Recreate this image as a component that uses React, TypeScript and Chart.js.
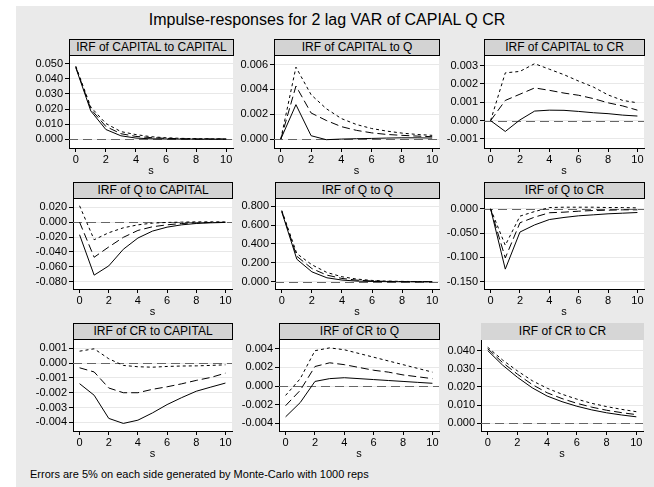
import React, { useEffect, useRef } from "react";
import { Chart, registerables } from "chart.js";

Chart.register(...registerables);

const FONT = "'Liberation Sans', Arial, Helvetica, sans-serif";

// ---------- data ----------
const steps = [0, 1, 2, 3, 4, 5, 6, 7, 8, 9, 10];
const xTicks = [0, 2, 4, 6, 8, 10];

const chartTitle = "Impulse-responses for 2 lag VAR of CAPIAL Q CR";
const noteText = "Errors are 5% on each side generated by Monte-Carlo with 1000 reps";

const panelTitles = [
  "IRF of CAPITAL to CAPITAL",
  "IRF of CAPITAL to Q",
  "IRF of CAPITAL to CR",
  "IRF of Q to CAPITAL",
  "IRF of Q to Q",
  "IRF of Q to CR",
  "IRF of CR to CAPITAL",
  "IRF of CR to Q",
  "IRF of CR to CR",
];

// CAPITAL to CAPITAL
const capCapLower = [0.0475, 0.0187, 0.0064, 0.0022, 0.0007, 0.0002, 0.0001, 0.0, 0.0, 0.0, 0.0];
const capCapIrf = [0.048, 0.02, 0.0084, 0.0036, 0.0018, 0.001, 0.0005, 0.0003, 0.0001, 0.0001, 0.0];
const capCapUpper = [0.0485, 0.0213, 0.0104, 0.005, 0.003, 0.0016, 0.0009, 0.0005, 0.0003, 0.0002, 0.0001];

// CAPITAL to Q
const capQLower = [0, 0.00277, 0.00027, -0.00005, 0.0, 0.00003, 0.00005, 0.00008, 0.0001, 0.0001, 0.00008];
const capQIrf = [0, 0.00427, 0.0021, 0.0015, 0.001, 0.0007, 0.0005, 0.00037, 0.0003, 0.00024, 0.00019];
const capQUpper = [0, 0.00579, 0.00357, 0.00245, 0.00165, 0.00117, 0.00085, 0.00064, 0.00048, 0.00037, 0.0003];

// CAPITAL to CR
const capCrLower = [0, -0.00059, 0.00004, 0.00052, 0.00057, 0.00056, 0.0005, 0.00043, 0.00038, 0.0003, 0.00025];
const capCrIrf = [0, 0.0011, 0.00144, 0.00178, 0.00165, 0.0015, 0.00138, 0.0012, 0.00097, 0.0008, 0.00057];
const capCrUpper = [0, 0.0026, 0.00268, 0.0031, 0.0028, 0.0025, 0.00215, 0.00183, 0.0014, 0.0011, 0.00097];

// Q to CAPITAL
const qCapLower = [-0.0169, -0.0711, -0.0587, -0.0364, -0.0213, -0.012, -0.0067, -0.0036, -0.0018, -0.0009, -0.0004];
const qCapIrf = [0, -0.0471, -0.0333, -0.0204, -0.0111, -0.0062, -0.0036, -0.0018, -0.0009, -0.0004, -0.0002];
const qCapUpper = [0.022, -0.0236, -0.0142, -0.0076, -0.0036, -0.0013, -0.0004, 0.0, 0.0004, 0.0004, 0.0003];

// Q to Q
const qQLower = [0.74, 0.239, 0.105, 0.042, 0.018, 0.007, 0.003, 0.001, 0.0, 0.0, 0.0];
const qQIrf = [0.75, 0.27, 0.14, 0.07, 0.035, 0.017, 0.008, 0.004, 0.002, 0.001, 0.0005];
const qQUpper = [0.755, 0.298, 0.18, 0.098, 0.053, 0.028, 0.014, 0.007, 0.004, 0.002, 0.001];

// Q to CR
const qCrLower = [0, -0.124, -0.0477, -0.033, -0.022, -0.0177, -0.0143, -0.0123, -0.0102, -0.0089, -0.0075];
const qCrIrf = [0, -0.101, -0.0286, -0.017, -0.008, -0.0068, -0.0048, -0.0034, -0.0027, -0.002, -0.002];
const qCrUpper = [0, -0.075, -0.015, -0.0055, 0.0027, 0.0034, 0.0034, 0.0034, 0.0027, 0.0027, 0.002];

// CR to CAPITAL
const crCapLower = [-0.00139, -0.00217, -0.00373, -0.00407, -0.00385, -0.00336, -0.0028, -0.00233, -0.0019, -0.00162, -0.00135];
const crCapIrf = [-0.00032, -0.0006, -0.00168, -0.002, -0.002, -0.00177, -0.0016, -0.0014, -0.00117, -0.00097, -0.00068];
const crCapUpper = [0.0008, 0.00096, 0.00029, -0.00016, -0.00025, -0.00028, -0.00023, -0.0002, -0.00019, -0.00016, -0.00012];

// CR to Q
const crQLower = [-0.0033, -0.00176, 0.0005, 0.0008, 0.0009, 0.0008, 0.0007, 0.0006, 0.0005, 0.0004, 0.0003];
const crQIrf = [-0.0021, -0.00045, 0.0021, 0.0025, 0.0023, 0.002, 0.0017, 0.0015, 0.0012, 0.001, 0.0008];
const crQUpper = [-0.001, 0.0008, 0.0038, 0.0041, 0.0039, 0.0035, 0.0031, 0.0027, 0.0023, 0.0019, 0.0015];

// CR to CR
const crCrLower = [0.04, 0.032, 0.0253, 0.0195, 0.015, 0.0119, 0.0094, 0.0074, 0.0058, 0.0046, 0.0036];
const crCrIrf = [0.041, 0.0334, 0.027, 0.0213, 0.0168, 0.0136, 0.011, 0.0089, 0.0072, 0.0059, 0.0048];
const crCrUpper = [0.0418, 0.0348, 0.0288, 0.0234, 0.0193, 0.016, 0.0133, 0.011, 0.0092, 0.0077, 0.0064];

// y-axis tick labels per panel
const yTicks1 = [0, 0.01, 0.02, 0.03, 0.04, 0.05];
const yTicks2 = [0, 0.002, 0.004, 0.006];
const yTicks3 = [-0.001, 0, 0.001, 0.002, 0.003];
const yTicks4 = [-0.08, -0.06, -0.04, -0.02, 0, 0.02];
const yTicks5 = [0, 0.2, 0.4, 0.6, 0.8];
const yTicks6 = [-0.15, -0.1, -0.05, 0];
const yTicks7 = [-0.004, -0.003, -0.002, -0.001, 0, 0.001];
const yTicks8 = [-0.004, -0.002, 0, 0.002, 0.004];
const yTicks9 = [0, 0.01, 0.02, 0.03, 0.04];

// ---------- layout (plot region in page pixels + axis ranges) ----------
type PanelCfg = {
  title: string;
  lower: number[];
  irf: number[];
  upper: number[];
  ticks: number[];
  yMin: number;
  yMax: number;
  L: number;
  R: number;
  T: number;
  B: number;
  plainHeader?: boolean;
};

const panels: PanelCfg[] = [
  { title: panelTitles[0], lower: capCapLower, irf: capCapIrf, upper: capCapUpper, ticks: yTicks1, yMin: -0.0059, yMax: 0.0555, L: 69, R: 233, T: 55, B: 148 },
  { title: panelTitles[1], lower: capQLower, irf: capQIrf, upper: capQUpper, ticks: yTicks2, yMin: -0.00072, yMax: 0.00672, L: 274, R: 439, T: 55, B: 148 },
  { title: panelTitles[2], lower: capCrLower, irf: capCrIrf, upper: capCrUpper, ticks: yTicks3, yMin: -0.00149, yMax: 0.00354, L: 484, R: 644, T: 55, B: 148 },
  { title: panelTitles[3], lower: qCapLower, irf: qCapIrf, upper: qCapUpper, ticks: yTicks4, yMin: -0.0897, yMax: 0.0316, L: 73, R: 232, T: 198, B: 289 },
  { title: panelTitles[4], lower: qQLower, irf: qQIrf, upper: qQUpper, ticks: yTicks5, yMin: -0.0768, yMax: 0.881, L: 275, R: 439, T: 198, B: 289 },
  { title: panelTitles[5], lower: qCrLower, irf: qCrIrf, upper: qCrUpper, ticks: yTicks6, yMin: -0.1649, yMax: 0.0211, L: 484, R: 644, T: 198, B: 289 },
  { title: panelTitles[6], lower: crCapLower, irf: crCapIrf, upper: crCapUpper, ticks: yTicks7, yMin: -0.00458, yMax: 0.00158, L: 73, R: 232, T: 339, B: 431 },
  { title: panelTitles[7], lower: crQLower, irf: crQIrf, upper: crQUpper, ticks: yTicks8, yMin: -0.00482, yMax: 0.00499, L: 279, R: 439, T: 339, B: 431 },
  { title: panelTitles[8], lower: crCrLower, irf: crCrIrf, upper: crCrUpper, ticks: yTicks9, yMin: -0.0042, yMax: 0.046, L: 481, R: 643, T: 339, B: 431, plainHeader: true },
];

const X_MIN = -0.45;
const X_MAX = 10.45;
const Y_AXIS_W = 60;
const PAD_TOP = 8;
const PAD_RIGHT = 10;
const X_AXIS_H = 30;
const HEADER_H = 16;

const plotBgPlugin = {
  id: "plotBg",
  beforeDraw(chart: any) {
    const { ctx, chartArea } = chart;
    ctx.save();
    ctx.fillStyle = "#ffffff";
    ctx.fillRect(chartArea.left, chartArea.top, chartArea.right - chartArea.left, chartArea.bottom - chartArea.top);
    ctx.restore();
  },
  beforeDatasetsDraw(chart: any) {
    const { ctx, chartArea, scales } = chart;
    const y = scales.y.getPixelForValue(0);
    ctx.save();
    ctx.strokeStyle = "#666666";
    ctx.lineWidth = 1;
    ctx.setLineDash([9, 5]);
    ctx.beginPath();
    ctx.moveTo(chartArea.left, Math.round(y) + 0.5);
    ctx.lineTo(chartArea.right, Math.round(y) + 0.5);
    ctx.stroke();
    ctx.restore();
  },
};

function Panel({ cfg }: { cfg: PanelCfg }) {
  const ref = useRef<HTMLCanvasElement | null>(null);
  const width = Y_AXIS_W + (cfg.R - cfg.L) + PAD_RIGHT;
  const height = PAD_TOP + (cfg.B - cfg.T) + X_AXIS_H;

  useEffect(() => {
    if (!ref.current) return;
    const mk = (vals: number[]) => steps.map((s, i) => ({ x: s, y: vals[i] }));
    const chart = new Chart(ref.current, {
      type: "line",
      data: {
        datasets: [
          { data: mk(cfg.lower), borderColor: "#000", borderWidth: 1, pointRadius: 0, tension: 0, fill: false },
          { data: mk(cfg.irf), borderColor: "#000", borderWidth: 1, borderDash: [8, 4], pointRadius: 0, tension: 0, fill: false },
          { data: mk(cfg.upper), borderColor: "#000", borderWidth: 1, borderDash: [3, 3], pointRadius: 0, tension: 0, fill: false },
        ],
      },
      options: {
        responsive: false,
        animation: false,
        devicePixelRatio: 1,
        layout: { padding: { top: PAD_TOP, right: PAD_RIGHT, left: 0, bottom: 0 } },
        plugins: { legend: { display: false }, tooltip: { enabled: false }, title: { display: false } },
        scales: {
          x: {
            type: "linear",
            min: X_MIN,
            max: X_MAX,
            afterBuildTicks: (axis: any) => {
              axis.ticks = xTicks.map((v) => ({ value: v }));
            },
            afterFit: (axis: any) => {
              axis.height = X_AXIS_H;
            },
            grid: { drawOnChartArea: false, drawTicks: true, tickLength: 4, tickColor: "#000" },
            border: { display: true, color: "#000", width: 1 },
            ticks: { color: "#000", font: { family: FONT, size: 11 }, padding: 1, maxRotation: 0, autoSkip: false },
            title: { display: true, text: "s", color: "#000", font: { family: FONT, size: 11 }, padding: 0 },
          },
          y: {
            type: "linear",
            min: cfg.yMin,
            max: cfg.yMax,
            afterBuildTicks: (axis: any) => {
              axis.ticks = cfg.ticks.map((v) => ({ value: v }));
            },
            afterFit: (axis: any) => {
              axis.width = Y_AXIS_W;
            },
            grid: { drawOnChartArea: true, color: "#e8e8e8", lineWidth: 1, drawTicks: true, tickLength: 4, tickColor: "#000" },
            border: { display: true, color: "#000", width: 1 },
            ticks: {
              color: "#000",
              font: { family: FONT, size: 11 },
              padding: 2,
              autoSkip: false,
              callback: (v: any) => Number(v).toFixed(3),
            },
          },
        },
      },
      plugins: [plotBgPlugin],
    });
    return () => chart.destroy();
  }, [cfg]);

  return (
    <>
      <canvas
        ref={ref}
        width={width}
        height={height}
        style={{ position: "absolute", left: cfg.L - Y_AXIS_W, top: cfg.T - PAD_TOP, width, height }}
      />
      <div
        style={{
          position: "absolute",
          left: cfg.L,
          top: cfg.T - HEADER_H,
          width: cfg.R - cfg.L + 1,
          height: HEADER_H + 1,
          boxSizing: "border-box",
          background: cfg.plainHeader ? "#d6d6d6" : "#d3d3d3",
          border: cfg.plainHeader ? "none" : "1px solid #000",
          fontFamily: FONT,
          fontSize: 12,
          lineHeight: cfg.plainHeader ? "17px" : "15px",
          textAlign: "center",
          color: "#000",
          whiteSpace: "nowrap",
          overflow: "hidden",
        }}
      >
        {cfg.title}
      </div>
    </>
  );
}

export default function App() {
  return (
    <div
      style={{
        position: "absolute",
        left: 0,
        top: 0,
        width: 654,
        height: 487,
        background: "#ffffff",
        overflow: "hidden",
        fontFamily: FONT,
      }}
    >
      <div style={{ position: "absolute", left: 16, top: 6, right: 0, bottom: 0, background: "#eaeaea" }} />
      <div
        style={{
          position: "absolute",
          left: 0,
          top: 10,
          width: 654,
          textAlign: "center",
          fontSize: 16,
          lineHeight: "20px",
          color: "#000",
        }}
      >
        {chartTitle}
      </div>
      {panels.map((p, i) => (
        <Panel key={i} cfg={p} />
      ))}
      <div style={{ position: "absolute", left: 30, top: 467, fontSize: 11, lineHeight: "14px", color: "#000" }}>
        {noteText}
      </div>
    </div>
  );
}
